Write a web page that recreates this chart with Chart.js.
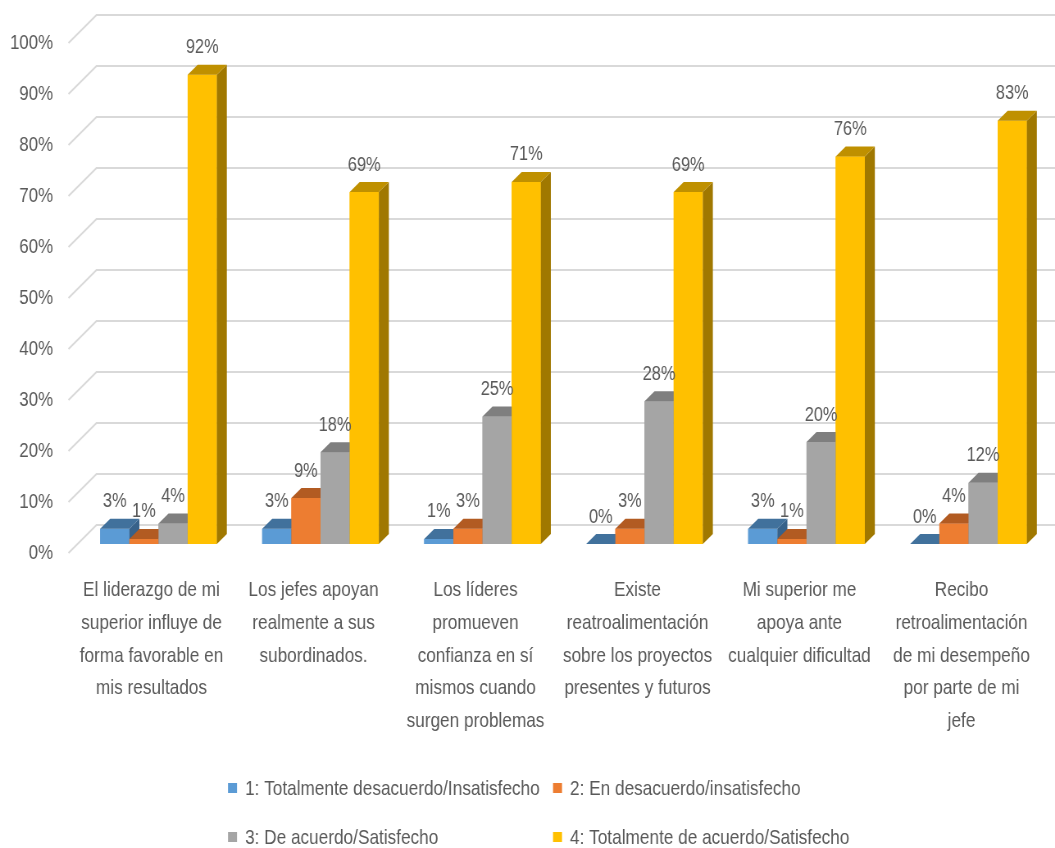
<!DOCTYPE html>
<html><head><meta charset="utf-8">
<script src="https://cdn.jsdelivr.net/npm/chart.js@4/dist/chart.umd.min.js"></script>
<style>
html,body{margin:0;padding:0;background:#fff;overflow:hidden;width:1055px;height:848px}
#c{display:block;width:1287px;height:848px;transform:scaleX(0.819736);transform-origin:0 0}
</style>
</head><body>
<canvas id="c" width="1287" height="848"></canvas>
<script>
const categories = [
  ["El liderazgo de mi","superior influye de","forma favorable en","mis resultados"],
  ["Los jefes apoyan","realmente a sus","subordinados."],
  ["Los líderes","promueven","confianza en sí","mismos cuando","surgen problemas"],
  ["Existe","reatroalimentación","sobre los proyectos","presentes y futuros"],
  ["Mi superior me","apoya ante","cualquier dificultad"],
  ["Recibo","retroalimentación","de mi desempeño","por parte de mi","jefe"]
];
const seriesNames = [
  "1: Totalmente desacuerdo/Insatisfecho",
  "2: En desacuerdo/insatisfecho",
  "3: De acuerdo/Satisfecho",
  "4: Totalmente de acuerdo/Satisfecho"
];
const s1 = [3, 3, 1, 0, 3, 0];
const s2 = [1, 9, 3, 3, 1, 4];
const s3 = [4, 18, 25, 28, 20, 12];
const s4 = [92, 69, 71, 69, 76, 83];
const tickValues = [0, 10, 20, 30, 40, 50, 60, 70, 80, 90, 100];

const frontColors = ['#5B9BD5', '#ED7D31', '#A5A5A5', '#FFC000'];
const topColors   = ['#41719C', '#B25B22', '#7F7F7F', '#BF9000'];
const sideColors  = ['#37628A', '#9C4F1C', '#707070', '#A07800'];
const FONT = "'Liberation Sans', Arial, sans-serif";
const TXT = '#595959';
const SX = 1055 / 1287;          // horizontal compression of the page canvas
const DX = 10 / SX, DY = 10;     // bar depth
const FFX = 9 / SX, FFY = 9;     // floor front offset
const WX = 19 / SX, WY = 19;     // back wall offset

Chart.defaults.font.family = FONT;
Chart.defaults.color = TXT;

const gridPlugin = {
  id: 'grid3d',
  beforeDatasetsDraw(chart) {
    const ctx = chart.ctx, ys = chart.scales.y, a = chart.chartArea;
    ctx.save();
    ctx.strokeStyle = '#D9D9D9';
    ctx.lineWidth = 2;
    ys.ticks.forEach(t => {
      const y = ys.getPixelForValue(t.value);
      ctx.beginPath();
      ctx.moveTo(a.left - FFX, y + FFY);
      ctx.lineTo(a.left + WX, y - WY);
      ctx.lineTo(chart.width, y - WY);
      ctx.stroke();
    });
    ctx.restore();
  }
};

const barsPlugin = {
  id: 'bars3d',
  afterDatasetsDraw(chart) {
    const ctx = chart.ctx;
    const metas = chart.data.datasets.map((d, i) => chart.getDatasetMeta(i));
    ctx.save();
    for (let i = 0; i < chart.data.labels.length; i++) {
      metas.forEach((m, di) => {
        const el = m.data[i];
        el.draw(ctx);
        const {x, y, base, width} = el.getProps(['x','y','base','width'], true);
        const l = x - width / 2, r = x + width / 2;
        ctx.fillStyle = sideColors[di];
        ctx.beginPath();
        ctx.moveTo(r, y); ctx.lineTo(r + DX, y - DY); ctx.lineTo(r + DX, base - DY); ctx.lineTo(r, base);
        ctx.closePath(); ctx.fill();
        ctx.fillStyle = topColors[di];
        ctx.beginPath();
        ctx.moveTo(l, y); ctx.lineTo(r, y); ctx.lineTo(r + DX, y - DY); ctx.lineTo(l + DX, y - DY);
        ctx.closePath(); ctx.fill();
      });
    }
    ctx.fillStyle = TXT;
    ctx.font = '20px ' + FONT;
    ctx.textAlign = 'center';
    ctx.textBaseline = 'middle';
    metas.forEach((m, di) => {
      m.data.forEach((el, i) => {
        const v = chart.data.datasets[di].data[i];
        ctx.fillText(v + '%', el.x, el.y - 27);
      });
    });
    ctx.restore();
  }
};

const legendPlugin = {
  id: 'legend2col',
  afterDraw(chart) {
    const ctx = chart.ctx;
    const cols = [228 / SX, 553 / SX], rows = [788, 837];
    ctx.save();
    ctx.font = '21px ' + FONT;
    ctx.textBaseline = 'middle';
    ctx.textAlign = 'left';
    chart.data.datasets.forEach((ds, i) => {
      const x = cols[i % 2], y = rows[Math.floor(i / 2)];
      ctx.fillStyle = ds.backgroundColor;
      ctx.fillRect(x, y - 5, 9 / SX, 10);
      ctx.fillStyle = TXT;
      ctx.fillText(ds.label, x + 17 / SX, y + 1);
    });
    ctx.restore();
  }
};

const datasets = [s1, s2, s3, s4].map((d, i) => ({
  label: seriesNames[i],
  data: d,
  backgroundColor: frontColors[i],
  borderWidth: 0,
  categoryPercentage: 0.72,
  barPercentage: 1.0
}));

new Chart(document.getElementById('c'), {
  type: 'bar',
  data: { labels: categories, datasets },
  plugins: [gridPlugin, barsPlugin, legendPlugin],
  options: {
    responsive: false,
    animation: false,
    devicePixelRatio: 1,
    layout: { padding: { top: 10, left: 0, right: 1287 - 1049.5 / SX, bottom: 110 } },
    plugins: { legend: { display: false }, tooltip: { enabled: false } },
    scales: {
      x: {
        grid: { display: false, drawTicks: false },
        border: { display: false },
        ticks: {
          font: { size: 21, lineHeight: 1.56 },
          color: TXT,
          padding: 18,
          labelOffset: -7 / SX,
          maxRotation: 0, minRotation: 0, autoSkip: false
        },
        afterFit(s) { s.height = 182; s.paddingLeft = 0; s.paddingRight = 0; }
      },
      y: {
        min: -12 / 5.1,
        max: 534 / 5.1,
        grid: { display: false, drawTicks: false },
        border: { display: false },
        ticks: {
          font: { size: 20.5 },
          color: TXT,
          padding: (77.5 - 53) / SX,
          labelOffset: 9,
          callback: v => v + '%'
        },
        afterBuildTicks(s) { s.ticks = tickValues.map(v => ({ value: v })); },
        afterFit(s) { s.width = 77.5 / SX; s.paddingTop = 0; s.paddingBottom = 0; }
      }
    }
  }
});
</script>
</body></html>
